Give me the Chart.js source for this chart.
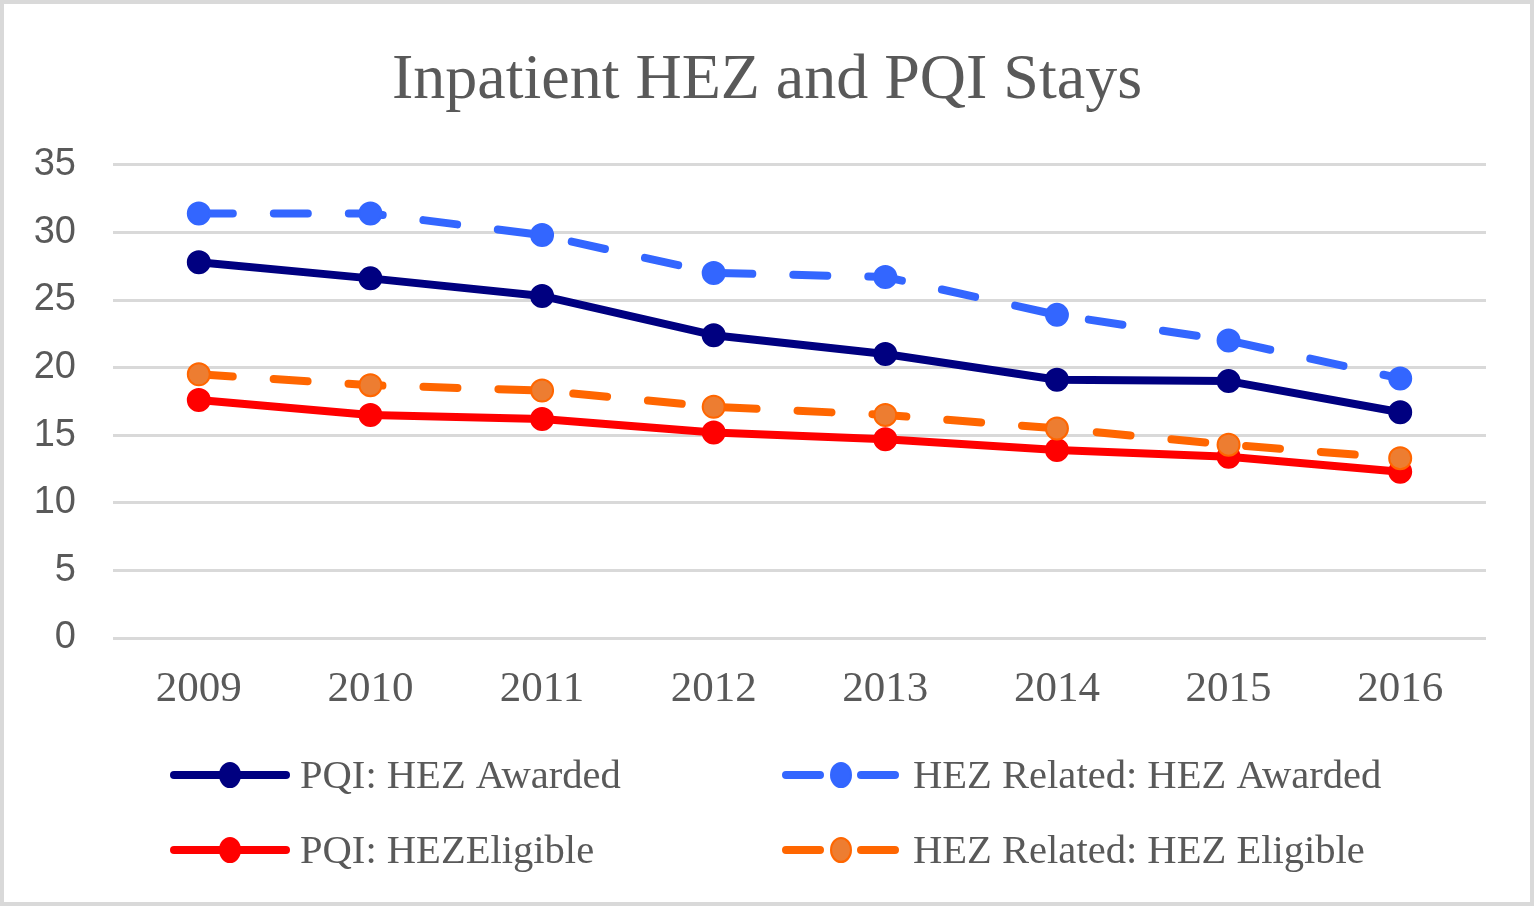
<!DOCTYPE html>
<html lang="en">
<head>
  <meta charset="UTF-8" />
  <title>Inpatient HEZ and PQI Stays</title>
  <style>
    html, body { margin: 0; padding: 0; background: #fff; }
    canvas { display: block; }
  </style>
</head>
<body>
  <canvas id="myChart" width="1534" height="906"></canvas>

  <script src="https://cdn.jsdelivr.net/npm/chart.js"></script>
  <script>
    const years = ['2009', '2010', '2011', '2012', '2013', '2014', '2015', '2016'];
    const pqiAwarded = [27.8, 26.6, 25.3, 22.4, 21.0, 19.1, 19.0, 16.7];
    const hezRelatedAwarded = [31.4, 31.4, 29.8, 27.0, 26.7, 23.9, 22.0, 19.2];
    const pqiEligible = [17.6, 16.5, 16.2, 15.2, 14.7, 13.9, 13.4, 12.3];
    const hezRelatedEligible = [19.5, 18.7, 18.3, 17.1, 16.5, 15.5, 14.3, 13.3];

    const GREY = '#595959';
    const SERIF = '"Liberation Serif", "Times New Roman", serif';

    const ctx = document.getElementById('myChart');

    const data = {
      labels: years,
      datasets: [
        {
          label: 'PQI: HEZ Awarded',
          data: pqiAwarded,
          borderColor: '#000080',
          backgroundColor: '#000080',
          pointBackgroundColor: '#000080',
          pointBorderColor: '#000080',
          order: 3
        },
        {
          label: 'HEZ Related: HEZ Awarded',
          data: hezRelatedAwarded,
          borderColor: '#3366FF',
          backgroundColor: '#3366FF',
          pointBackgroundColor: '#3366FF',
          pointBorderColor: '#3366FF',
          borderDash: [34, 41],
          order: 2
        },
        {
          label: 'PQI: HEZEligible',
          data: pqiEligible,
          borderColor: '#FF0000',
          backgroundColor: '#FF0000',
          pointBackgroundColor: '#FF0000',
          pointBorderColor: '#FF0000',
          order: 1
        },
        {
          label: 'HEZ Related: HEZ Eligible',
          data: hezRelatedEligible,
          borderColor: '#FF6600',
          backgroundColor: '#ED7D31',
          pointBackgroundColor: '#ED7D31',
          pointBorderColor: '#FF6600',
          borderDash: [34, 41],
          order: 0
        }
      ]
    };

    // frame round the whole picture
    const framePlugin = {
      id: 'frame',
      beforeDraw(chart) {
        const c = chart.ctx;
        c.save();
        c.fillStyle = '#fff';
        c.fillRect(0, 0, chart.width, chart.height);
        c.strokeStyle = '#D9D9D9';
        c.lineWidth = 4;
        c.strokeRect(2, 2, chart.width - 4, chart.height - 4);
        c.restore();
      }
    };

    // two-column legend under the chart, like the original
    const legendSlots = [
      {x: 170, y: 775, w: 120, tx: 300},
      {x: 782, y: 775, w: 118, tx: 913},
      {x: 170, y: 850, w: 120, tx: 300},
      {x: 782, y: 850, w: 118, tx: 913}
    ];
    const gridLegend = {
      id: 'gridLegend',
      afterDraw(chart) {
        const c = chart.ctx;
        chart.data.datasets.forEach((ds, i) => {
          const s = legendSlots[i];
          c.save();
          c.strokeStyle = ds.borderColor;
          c.lineWidth = 8;
          c.lineCap = 'round';
          c.setLineDash(ds.borderDash || []);
          c.beginPath();
          c.moveTo(s.x + 4, s.y);
          c.lineTo(s.x + s.w - 4, s.y);
          c.stroke();
          c.setLineDash([]);
          c.fillStyle = ds.pointBackgroundColor;
          c.strokeStyle = ds.pointBorderColor;
          c.lineWidth = 2;
          c.beginPath();
          c.ellipse(s.x + s.w / 2, s.y, 10, 12, 0, 0, Math.PI * 2);
          c.fill();
          c.stroke();
          c.fillStyle = GREY;
          c.font = '40.6px ' + SERIF;
          c.textBaseline = 'middle';
          c.textAlign = 'left';
          c.fillText(ds.label, s.tx, s.y + 2);
          c.restore();
        });
      }
    };

    new Chart(ctx, {
      type: 'line',
      data: data,
      plugins: [framePlugin, gridLegend],
      options: {
        responsive: false,
        animation: false,
        devicePixelRatio: 1,
        layout: {
          padding: {left: 0, right: 0, top: 0, bottom: 180}
        },
        elements: {
          line: {borderWidth: 8, tension: 0, borderCapStyle: 'round', borderJoinStyle: 'round'},
          point: {radius: 11, borderWidth: 2, hoverRadius: 11}
        },
        scales: {
          x: {
            offset: true,
            grid: {display: false, drawTicks: false},
            border: {display: false},
            ticks: {
              color: GREY,
              padding: 26,
              font: {family: SERIF, size: 43}
            },
            afterFit(scale) { scale.height = 88; }
          },
          y: {
            min: 0,
            max: 35,
            ticks: {
              stepSize: 5,
              color: GREY,
              padding: 37,
              font: {family: '"Liberation Sans", Arial, sans-serif', size: 38}
            },
            grid: {color: '#D9D9D9', lineWidth: 3, drawTicks: false},
            border: {display: false},
            afterFit(scale) { scale.width = 113; }
          },
          // empty right-hand axis, only keeps the right margin
          yPad: {
            position: 'right',
            min: 0,
            max: 35,
            grid: {display: false, drawTicks: false},
            border: {display: false},
            ticks: {display: false},
            afterFit(scale) { scale.width = 48; }
          }
        },
        plugins: {
          legend: {display: false},
          tooltip: {enabled: false},
          title: {
            display: true,
            text: 'Inpatient HEZ and PQI Stays',
            color: GREY,
            font: {family: SERIF, size: 64, weight: 'normal', lineHeight: 1.2},
            padding: {top: 43, bottom: 45}
          }
        }
      }
    });
  </script>
</body>
</html>
